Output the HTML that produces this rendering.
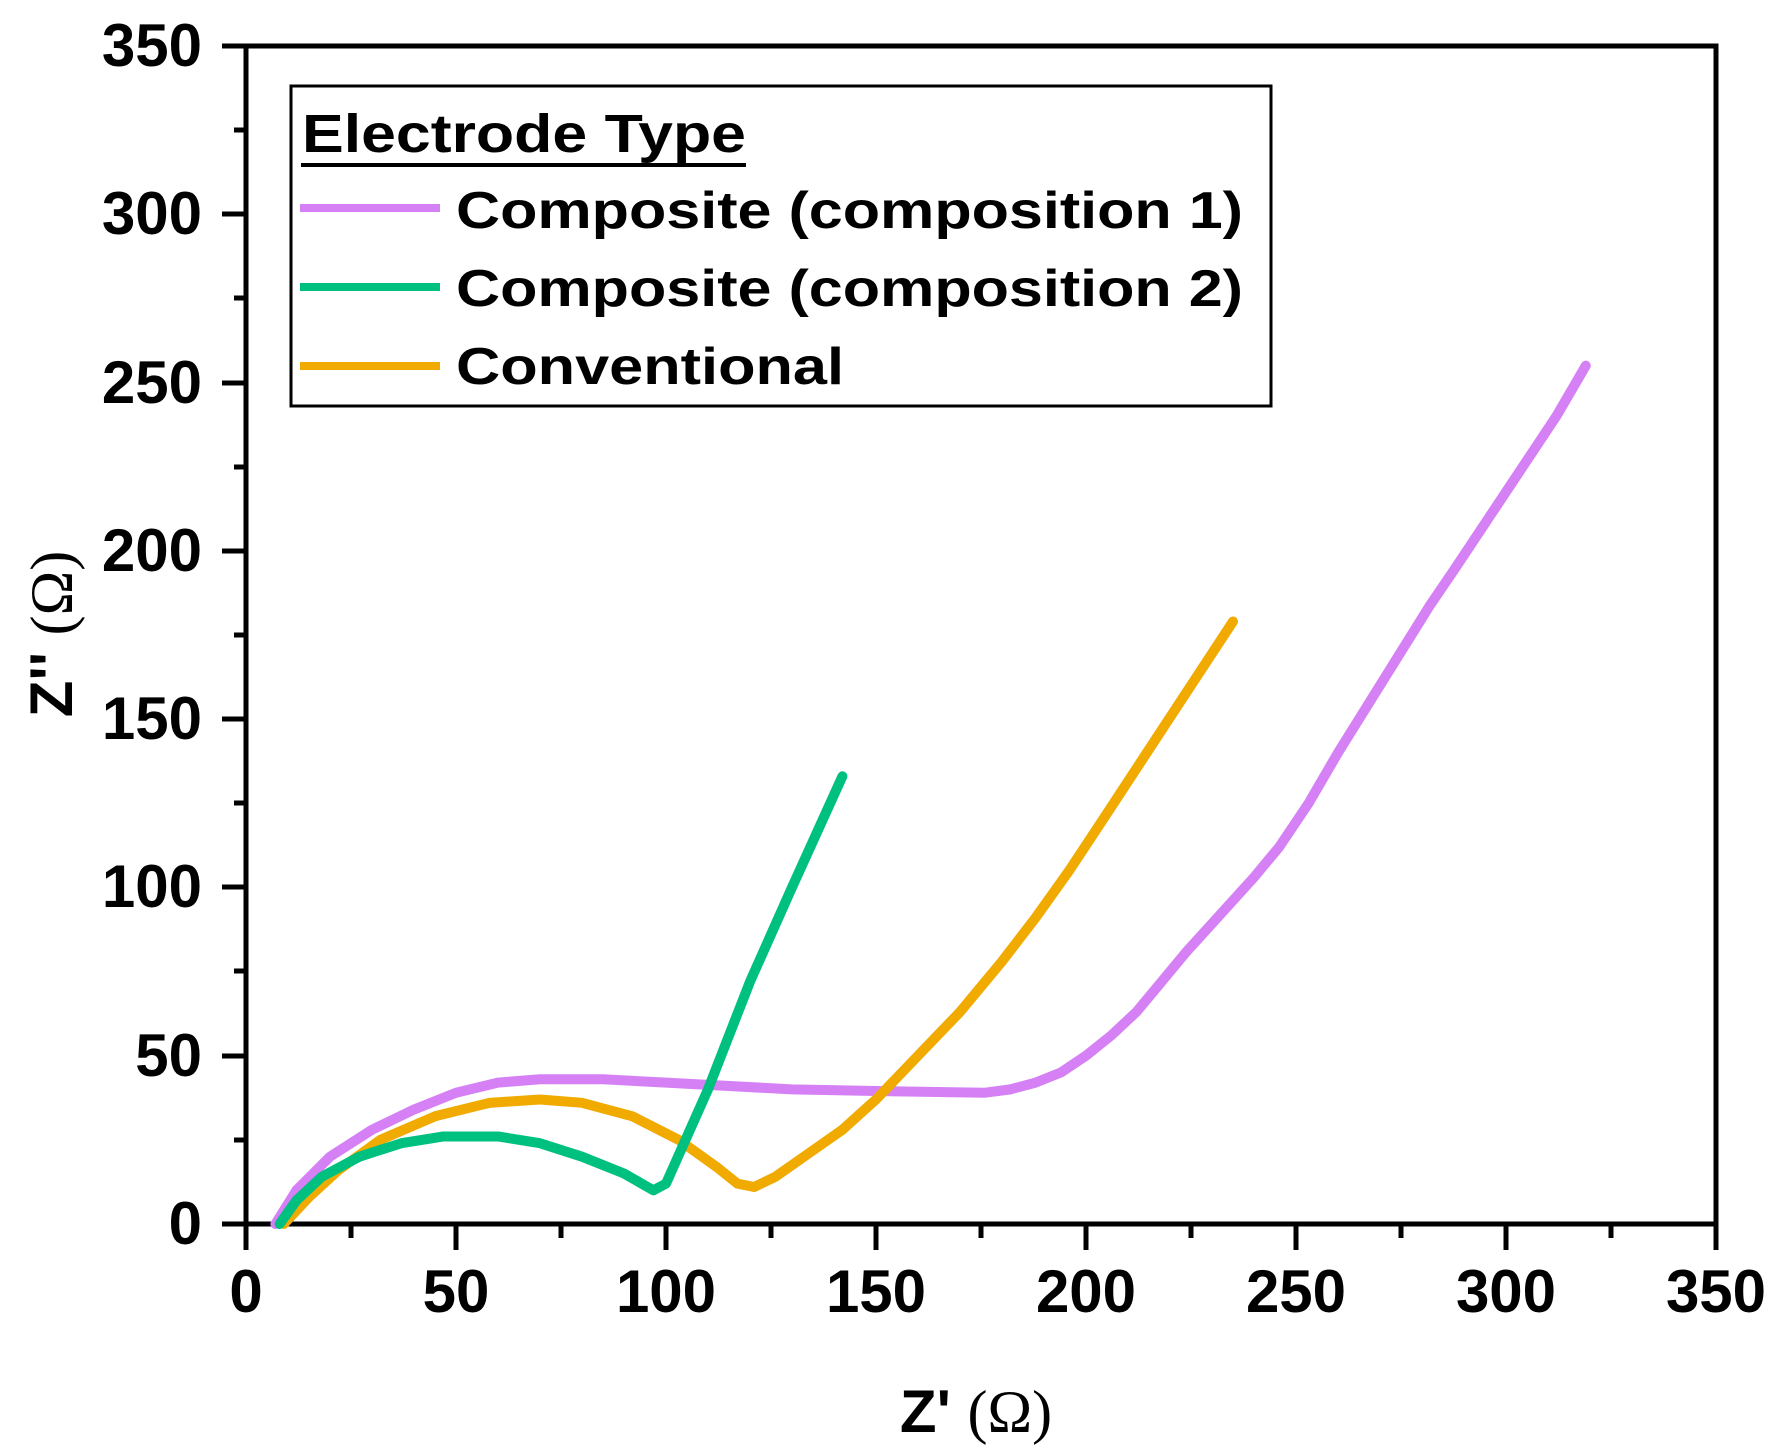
<!DOCTYPE html>
<html><head><meta charset="utf-8"><style>
html,body{margin:0;padding:0;background:#fff;}
svg{display:block;}
text{font-family:"Liberation Sans",Arial,sans-serif;font-weight:bold;fill:#000;}
</style></head><body>
<svg width="1775" height="1455" viewBox="0 0 1775 1455" xmlns="http://www.w3.org/2000/svg">
<rect x="246" y="46" width="1470" height="1178" fill="none" stroke="#000" stroke-width="5"/>
<g stroke="#000" stroke-width="5">
<line x1="222" y1="1224" x2="246" y2="1224"/>
<line x1="222" y1="1056" x2="246" y2="1056"/>
<line x1="222" y1="887" x2="246" y2="887"/>
<line x1="222" y1="719" x2="246" y2="719"/>
<line x1="222" y1="551" x2="246" y2="551"/>
<line x1="222" y1="383" x2="246" y2="383"/>
<line x1="222" y1="214" x2="246" y2="214"/>
<line x1="222" y1="46" x2="246" y2="46"/>
<line x1="234" y1="1140" x2="246" y2="1140"/>
<line x1="234" y1="971" x2="246" y2="971"/>
<line x1="234" y1="803" x2="246" y2="803"/>
<line x1="234" y1="635" x2="246" y2="635"/>
<line x1="234" y1="467" x2="246" y2="467"/>
<line x1="234" y1="298" x2="246" y2="298"/>
<line x1="234" y1="130" x2="246" y2="130"/>
<line x1="246" y1="1224" x2="246" y2="1250"/>
<line x1="456" y1="1224" x2="456" y2="1250"/>
<line x1="666" y1="1224" x2="666" y2="1250"/>
<line x1="876" y1="1224" x2="876" y2="1250"/>
<line x1="1086" y1="1224" x2="1086" y2="1250"/>
<line x1="1296" y1="1224" x2="1296" y2="1250"/>
<line x1="1506" y1="1224" x2="1506" y2="1250"/>
<line x1="1716" y1="1224" x2="1716" y2="1250"/>
<line x1="351" y1="1224" x2="351" y2="1238"/>
<line x1="561" y1="1224" x2="561" y2="1238"/>
<line x1="771" y1="1224" x2="771" y2="1238"/>
<line x1="981" y1="1224" x2="981" y2="1238"/>
<line x1="1191" y1="1224" x2="1191" y2="1238"/>
<line x1="1401" y1="1224" x2="1401" y2="1238"/>
<line x1="1611" y1="1224" x2="1611" y2="1238"/>
</g>
<g font-size="60" text-anchor="end">
<text x="202" y="1244">0</text>
<text x="202" y="1076">50</text>
<text x="202" y="907">100</text>
<text x="202" y="739">150</text>
<text x="202" y="571">200</text>
<text x="202" y="403">250</text>
<text x="202" y="234">300</text>
<text x="202" y="66">350</text>
</g>
<g font-size="60" text-anchor="middle">
<text x="246" y="1312">0</text>
<text x="456" y="1312">50</text>
<text x="666" y="1312">100</text>
<text x="876" y="1312">150</text>
<text x="1086" y="1312">200</text>
<text x="1296" y="1312">250</text>
<text x="1506" y="1312">300</text>
<text x="1716" y="1312">350</text>
</g>
<text x="976" y="1432" font-size="60" text-anchor="middle">Z' <tspan font-family="Liberation Serif,serif" font-weight="normal">(Ω)</tspan></text>
<text transform="translate(72,634) rotate(-90)" font-size="60" text-anchor="middle">Z'' <tspan font-family="Liberation Serif,serif" font-weight="normal">(Ω)</tspan></text>
<g transform="translate(246,1224) scale(4.2,-3.366)" fill="none" stroke-width="10" stroke-linejoin="round" stroke-linecap="round">
<polyline vector-effect="non-scaling-stroke" stroke="#d580f5" points="7,0 12,10 20,20 30,28 40,34 50,39 60,42 70,43 85,43 100,42 130,40 150,39.5 176,39 182,40 188,42 194,45 200,50 206,56 212,63 218,72 224,81 232,92 240,103 246,112 253,125 260,140 268,156 275,170 282,184 288,195 296,210 304,225 312,240 319,255"/>
<polyline vector-effect="non-scaling-stroke" stroke="#f0aa00" points="9,0 15,8 22,16 32,25 45,32 58,36 70,37 80,36 92,32 103,25 112,17 117,12 121,11 126,14 134,21 142,28 150,37 160,50 170,63 180,78 188,91 196,105 205,122 215,141 225,160 235,179"/>
<polyline vector-effect="non-scaling-stroke" stroke="#00c080" points="8,0 12,7 18,14 27,20 37,24 47,26 60,26 70,24 80,20 90,15 97,10 100,12 110,40 120,72 130,100 142,133"/>
</g>
<rect x="291" y="86" width="980" height="320" fill="#fff" stroke="#000" stroke-width="3"/>
<text x="302" y="152" font-size="54" textLength="444" lengthAdjust="spacingAndGlyphs">Electrode Type</text>
<line x1="301" y1="165" x2="746" y2="165" stroke="#000" stroke-width="4"/>
<line x1="300" y1="208" x2="440" y2="208" stroke="#d580f5" stroke-width="8"/>
<line x1="300" y1="287" x2="440" y2="287" stroke="#00c080" stroke-width="8"/>
<line x1="300" y1="366" x2="440" y2="366" stroke="#f0aa00" stroke-width="8"/>
<g font-size="52">
<text x="456" y="228" textLength="787" lengthAdjust="spacingAndGlyphs">Composite (composition 1)</text>
<text x="456" y="306" textLength="787" lengthAdjust="spacingAndGlyphs">Composite (composition 2)</text>
<text x="456" y="384" textLength="388" lengthAdjust="spacingAndGlyphs">Conventional</text>
</g>
</svg>
</body></html>
